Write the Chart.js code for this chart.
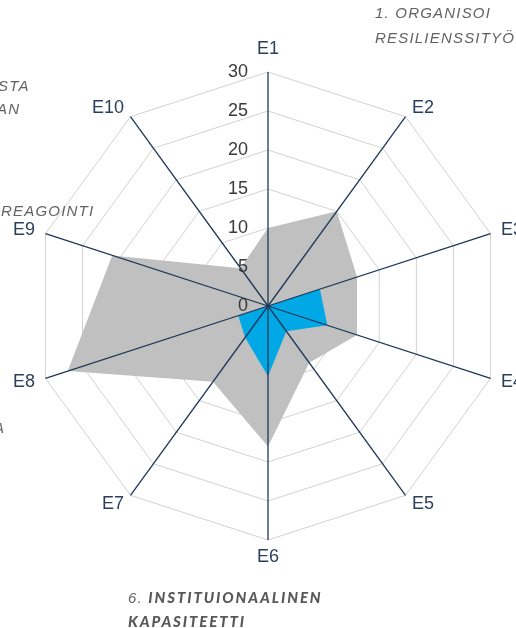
<!DOCTYPE html>
<html><head><meta charset="utf-8">
<script src="https://cdn.jsdelivr.net/npm/chart.js@4.4.1/dist/chart.umd.min.js"></script>
<style>
html,body{margin:0;padding:0;background:#fff;overflow:hidden;}
#wrap{position:relative;width:516px;height:628px;overflow:hidden;background:#fff;}
canvas{position:absolute;left:0;top:0;}
.note{position:absolute;font-family:'Liberation Sans',Arial,sans-serif;font-style:italic;color:#636363;font-size:15px;letter-spacing:1.2px;white-space:nowrap;line-height:18px;}
.heavy{font-family:Lato,'Liberation Sans',Arial,sans-serif;font-weight:900;color:#595959;letter-spacing:1.9px;}
</style></head>
<body><div id="wrap"><canvas id="c" width="516" height="628"></canvas>
<div class="note" style="left:375px;top:4px">1. ORGANISOI</div>
<div class="note" style="left:375px;top:29px">RESILIENSSITYÖ</div>
<div class="note" style="left:-2px;top:77px">STA</div>
<div class="note" style="left:-3px;top:100px">AN</div>
<div class="note" style="left:1px;top:202px">REAGOINTI</div>
<div class="note" style="left:-6px;top:419px">A</div>
<div class="note" style="left:128px;top:588px">6. <span class="heavy">INSTITUIONAALINEN</span></div>
<div class="note heavy" style="left:128px;top:612px">KAPASITEETTI</div>
</div>
<script>
const categories = ['E1','E2','E3','E4','E5','E6','E7','E8','E9','E10'];
const greySeries = [10, 15, 12, 12, 9, 18, 12, 27, 21, 6];
const blueSeries = [0, 0, 7, 8, 4, 9, 5, 4, 0, 0];
const tickValues = [0, 5, 10, 15, 20, 25, 30];

const AXIS_COLOR = '#1e3858';
const LABEL_COLOR = '#2a3f5a';
const TICK_COLOR = '#3a3a3a';
const FONT = '18px "Liberation Sans", Arial, sans-serif';

const overlay = {
  id: 'overlay',
  afterDatasetsDraw(chart) {
    const s = chart.scales.r;
    const ctx = chart.ctx;
    ctx.save();
    ctx.strokeStyle = AXIS_COLOR;
    ctx.lineWidth = 1.3;
    for (let i = 0; i < categories.length; i++) {
      const p = s.getPointPosition(i, s.drawingArea);
      ctx.beginPath();
      ctx.moveTo(s.xCenter, s.yCenter);
      ctx.lineTo(p.x, p.y);
      ctx.stroke();
    }
    ctx.font = FONT;
    ctx.fillStyle = TICK_COLOR;
    ctx.textAlign = 'right';
    ctx.textBaseline = 'middle';
    tickValues.forEach(v => {
      const d = s.getDistanceFromCenterForValue(v);
      ctx.fillText(String(v), s.xCenter - 20, s.yCenter - d);
    });
    ctx.fillStyle = LABEL_COLOR;
    const n = categories.length;
    categories.forEach((lab, i) => {
      const p = s.getPointPosition(i, s.drawingArea + 11);
      let x = p.x, y = p.y;
      if (i === 0) { ctx.textAlign = 'center'; y -= 12; }
      else if (i === n / 2) { ctx.textAlign = 'center'; y += 6; }
      else if (i < n / 2) { ctx.textAlign = 'left'; }
      else { ctx.textAlign = 'right'; }
      ctx.fillText(lab, x, y);
    });
    ctx.restore();
  }
};

new Chart(document.getElementById('c'), {
  type: 'radar',
  data: {
    labels: categories,
    datasets: [
      { label: 'B', data: blueSeries, backgroundColor: '#00a8e6', borderWidth: 0, pointRadius: 0, fill: true },
      { label: 'A', data: greySeries, backgroundColor: '#c0c0c0', borderWidth: 0, pointRadius: 0, fill: true }
    ]
  },
  options: {
    responsive: false,
    animation: false,
    layout: { padding: { left: 34, right: 14, top: 72, bottom: 88 } },
    plugins: { legend: { display: false }, tooltip: { enabled: false } },
    elements: { line: { tension: 0, borderWidth: 0 } },
    scales: {
      r: {
        min: 0, max: 30,
        ticks: { display: false, stepSize: 5 },
        grid: { color: '#d2d2d2', lineWidth: 1 },
        angleLines: { display: false },
        pointLabels: { display: false }
      }
    }
  },
  plugins: [overlay]
});
</script>
</body></html>
